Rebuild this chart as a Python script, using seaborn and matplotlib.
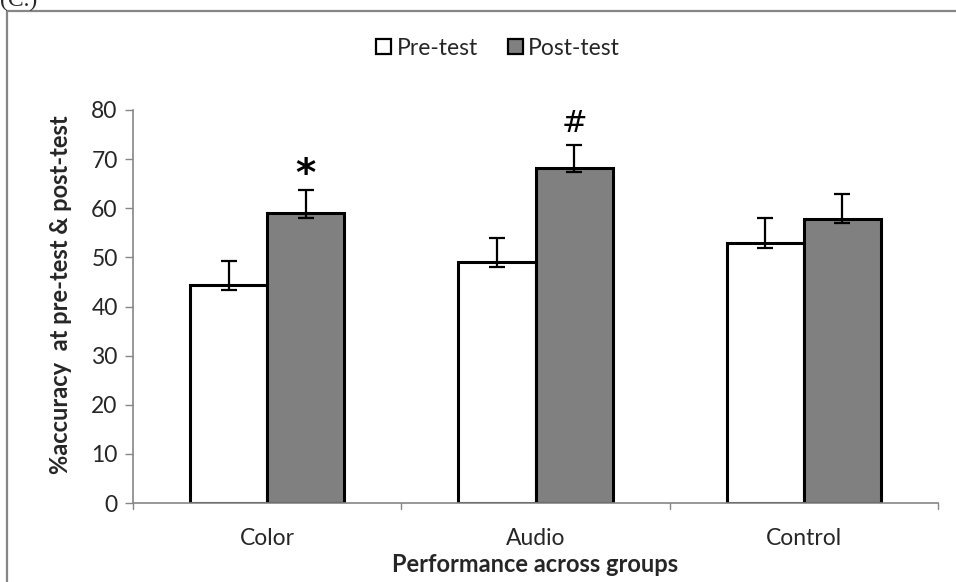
import matplotlib
matplotlib.use("Agg")
import matplotlib.pyplot as plt
from matplotlib.patches import Patch
from matplotlib.lines import Line2D
import seaborn as sns
import pandas as pd
import numpy as np

# Group means (% accuracy) and asymmetric error extents
groups = ["Color", "Audio", "Control"]
phases = ["Pre-test", "Post-test"]
pre_mean = [44.3, 49.0, 52.9]
post_mean = [59.0, 68.2, 57.9]
pre_err_low = [1.0, 1.0, 0.9]
pre_err_high = [4.9, 5.0, 5.2]
post_err_low = [0.9, 0.9, 0.9]
post_err_high = [4.7, 4.7, 5.0]
marks = ["*", "#", ""]
y_ticks = [0, 10, 20, 30, 40, 50, 60, 70, 80]

df = pd.DataFrame({
    "group": groups * 2,
    "phase": [phases[0]] * 3 + [phases[1]] * 3,
    "value": pre_mean + post_mean,
})

sns.set_theme(style="white")
plt.rcParams["font.family"] = ["Lato", "DejaVu Sans"]
FS = 16.5
LFS = 17

fig = plt.figure(figsize=(9.56, 5.82), dpi=100)
ax = fig.add_axes([0.1391, 0.1357, 0.8421, 0.6753])

palette = {"Pre-test": "#ffffff", "Post-test": "#808080"}
sns.barplot(data=df, x="group", y="value", hue="phase", order=groups,
            hue_order=phases, palette=palette, width=0.574, gap=0,
            edgecolor="black", linewidth=2.2, errorbar=None, ax=ax,
            legend=False, saturation=1)

# error bars centred on each bar
bar_x = {}
for patch in ax.patches:
    cx = patch.get_x() + patch.get_width() / 2
    bar_x.setdefault(patch.get_facecolor()[:3] == (1.0, 1.0, 1.0), []).append(cx)
pre_x = sorted(bar_x[True])
post_x = sorted(bar_x[False])
ax.errorbar(pre_x, pre_mean, yerr=[pre_err_low, pre_err_high], fmt="none",
            ecolor="black", elinewidth=1.6, capsize=6, capthick=1.6, zorder=5)
ax.errorbar(post_x, post_mean, yerr=[post_err_low, post_err_high], fmt="none",
            ecolor="black", elinewidth=1.6, capsize=6, capthick=1.6, zorder=5)

# significance marks above the post-test bars
for x, m, top in zip(post_x, marks, np.array(post_mean) + np.array(post_err_high)):
    if m:
        ax.annotate(m, xy=(x, top), xytext=(0, 9 if m == "#" else 3),
                    textcoords="offset points", ha="center", va="baseline",
                    fontsize=22 if m == "#" else 28, color="black",
                    fontweight="bold" if m == "*" else "normal",
                    family="DejaVu Sans")

ax.set_ylim(0, 80)
ax.set_xlim(-0.5, 2.5)
ax.set_yticks(y_ticks)
ax.set_yticklabels([str(v) for v in y_ticks], fontsize=FS)
ax.set_xticks([0, 1, 2])
ax.set_xticklabels(groups, fontsize=FS)
ax.tick_params(axis="x", length=0, pad=18)
ax.tick_params(axis="y", length=6, width=1, color="#868686", direction="out",
               left=True, pad=5)
for v in [-0.5, 0.5, 1.5, 2.5]:
    ax.plot([v, v], [0, -1.2], color="#868686", lw=1, clip_on=False)

for s in ["top", "right"]:
    ax.spines[s].set_visible(False)
for s in ["left", "bottom"]:
    ax.spines[s].set_color("#868686")
    ax.spines[s].set_linewidth(1.2)

ax.set_xlabel("Performance across groups", fontsize=LFS, fontweight="bold",
              labelpad=3)
ax.set_ylabel("%accuracy  at pre-test & post-test", fontsize=LFS,
              fontweight="bold")
ax.yaxis.set_label_coords(-0.076, 0.53)

handles = [Patch(facecolor=palette[p], edgecolor="black", linewidth=1.6, label=p)
           for p in phases]
fig.legend(handles=handles, loc="center", bbox_to_anchor=(0.521, 0.9175),
           ncol=2, frameon=False, fontsize=FS, handlelength=0.65,
           handleheight=0.65, handletextpad=0.25, columnspacing=1.3)

# outer frame and panel tag
fig.add_artist(Line2D([7 / 956, 7 / 956], [0, 1 - 11 / 582], color="#868686",
                      lw=1.6, transform=fig.transFigure))
fig.add_artist(Line2D([7 / 956, 1], [1 - 11 / 582, 1 - 11 / 582], color="#868686",
                      lw=1.6, transform=fig.transFigure))
fig.text(0.0, 1 - 6 / 582, "(C.)", fontsize=17, family="Liberation Serif",
         va="baseline", ha="left")

fig.savefig("out.png", dpi=100)
